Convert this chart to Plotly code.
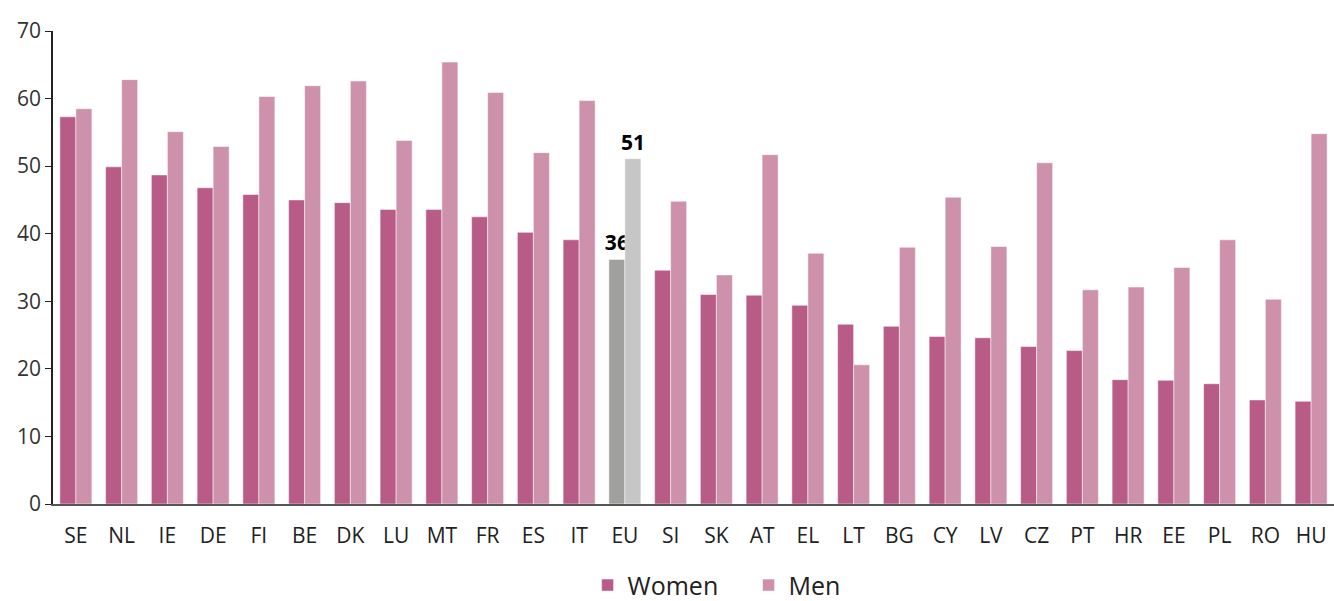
import plotly.graph_objects as go

countries = ["SE", "NL", "IE", "DE", "FI", "BE", "DK", "LU", "MT", "FR", "ES", "IT", "EU",
             "SI", "SK", "AT", "EL", "LT", "BG", "CY", "LV", "CZ", "PT", "HR", "EE", "PL", "RO", "HU"]
women = [57.3, 49.9, 48.7, 46.8, 45.8, 45.0, 44.6, 43.6, 43.6, 42.5, 40.2, 39.1, 36.2,
         34.6, 31.0, 30.9, 29.4, 26.6, 26.3, 24.8, 24.6, 23.3, 22.7, 18.4, 18.3, 17.8, 15.4, 15.2]
men = [58.5, 62.8, 55.1, 52.9, 60.3, 61.9, 62.6, 53.8, 65.4, 60.9, 52.0, 59.7, 51.1,
       44.8, 33.9, 51.7, 37.1, 20.6, 38.0, 45.4, 38.1, 50.5, 31.7, 32.1, 35.0, 39.1, 30.3, 54.8]

women_color = "#b85c87"
men_color = "#cd91ab"
eu_women_color = "#a0a09e"
eu_men_color = "#c6c6c6"

w_colors = [eu_women_color if c == "EU" else women_color for c in countries]
m_colors = [eu_men_color if c == "EU" else men_color for c in countries]
w_text = [f"{round(v)}" if c == "EU" else "" for c, v in zip(countries, women)]
m_text = [f"{round(v)}" if c == "EU" else "" for c, v in zip(countries, men)]

label_font = dict(family="Liberation Sans Narrow, Open Sans", size=21, color="black", weight="bold")

fig = go.Figure()
fig.add_trace(go.Bar(
    x=countries, y=women, name="Women",
    marker=dict(color=w_colors, line=dict(color="rgba(255,255,255,0.5)", width=1)),
    text=w_text, textposition="outside", cliponaxis=False, textfont=label_font,
    constraintext="none",
))
fig.add_trace(go.Bar(
    x=countries, y=men, name="Men",
    marker=dict(color=m_colors, line=dict(color="rgba(255,255,255,0.5)", width=1)),
    text=m_text, textposition="outside", cliponaxis=False, textfont=label_font,
    constraintext="none",
))

fig.update_layout(
    width=1334, height=601,
    margin=dict(l=53, r=0, t=31, b=97, autoexpand=False),
    paper_bgcolor="white", plot_bgcolor="white",
    barmode="group", bargap=0.3, bargroupgap=0,
    font=dict(family="Open Sans", color="#333333"),
    showlegend=True,
    legend=dict(orientation="h", x=0.543, xanchor="center", y=-0.172, yanchor="middle",
                font=dict(size=25, color="#222222"), itemwidth=30, traceorder="normal",
                entrywidth=116, entrywidthmode="pixels"),
    xaxis=dict(showline=True, linecolor="#555555", linewidth=2, ticks="",
               ticklabelstandoff=12,
               tickfont=dict(size=21, color="#222222"), showgrid=False),
    yaxis=dict(range=[0, 70], dtick=10, showline=True, linecolor="#222222", linewidth=1.5,
               ticks="outside", ticklen=6, tickcolor="#222222", showgrid=False, zeroline=False,
               tickfont=dict(size=21, color="#333333")),
)

fig.write_html("out.html", config={"displayModeBar": False},
               post_script="document.body.style.margin='0';document.body.style.overflow='hidden';")
